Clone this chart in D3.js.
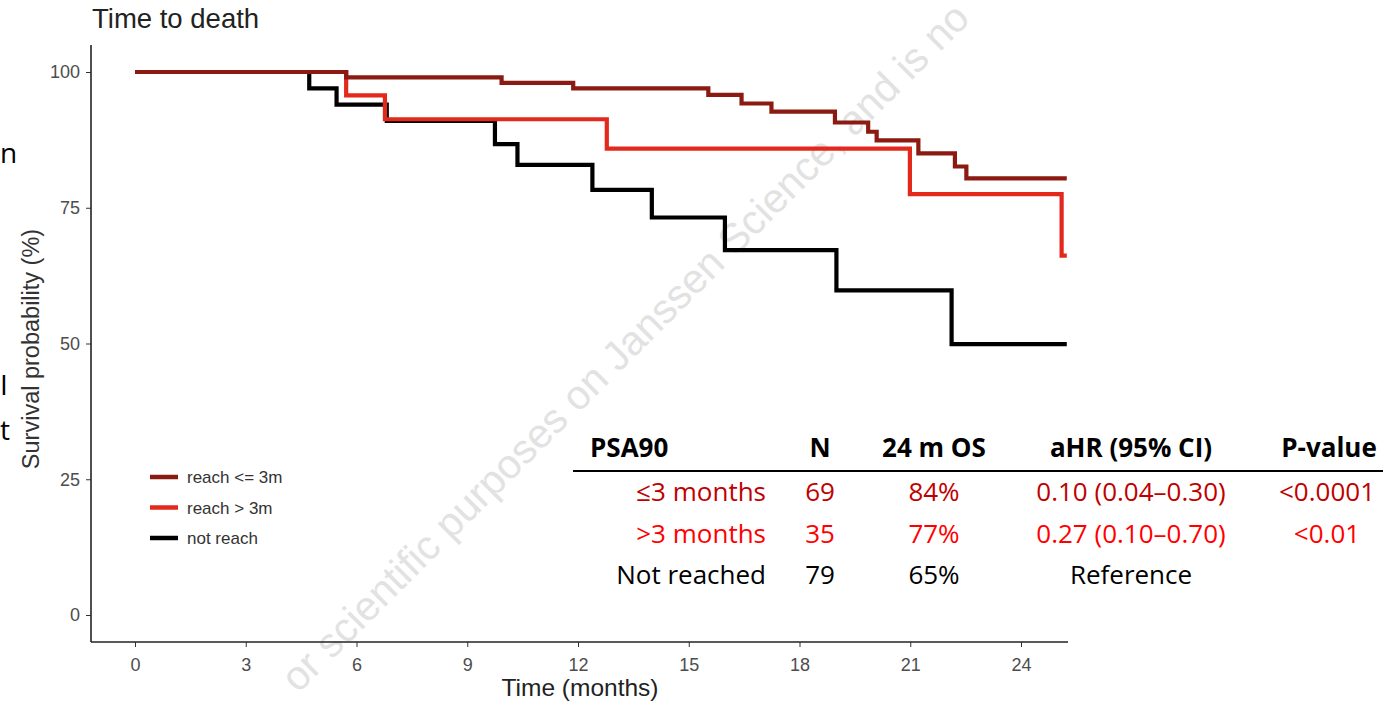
<!DOCTYPE html>
<html><head><meta charset="utf-8">
<script src="https://cdn.jsdelivr.net/npm/d3@7"></script>
<style>body{margin:0;background:#fff;overflow:hidden}svg{display:block}</style>
</head><body>
<svg id="c" width="1383" height="704"></svg>
<script>
// Kaplan-Meier step data: [time (months), survival %]
const reachLE3Times = [0, 5.72, 9.93, 11.87, 15.53, 16.43, 17.24, 18.96, 19.86, 20.09, 21.22, 22.21, 22.52, 25.24];
const reachLE3Surv  = [100, 99.0, 98.0, 97.0, 95.8, 94.2, 92.7, 90.7, 89.0, 87.4, 85.0, 82.6, 80.4, 80.4];
const reachGT3Times = [0, 5.72, 6.77, 12.78, 20.99, 25.10, 25.24];
const reachGT3Surv  = [100, 95.7, 91.3, 85.9, 77.5, 66.2, 66.2];
const notReachTimes = [0, 4.72, 5.46, 6.82, 9.75, 10.36, 12.39, 14.0, 15.98, 19.0, 22.12, 25.24];
const notReachSurv  = [100, 97.0, 94.0, 91.0, 86.7, 82.9, 78.3, 73.2, 67.2, 59.8, 49.9, 49.9];
const seriesNames = ["reach <= 3m", "reach > 3m", "not reach"];
const seriesColors = ["#8b1a12", "#e2291b", "#000000"];
const xTicks = [0, 3, 6, 9, 12, 15, 18, 21, 24];
const yTicks = [0, 25, 50, 75, 100];

// Table
const tableHeader = ["PSA90", "N", "24 m OS", "aHR (95% CI)", "P-value"];
const tableGroups = ["≤3 months", ">3 months", "Not reached"];
const tableN = ["69", "35", "79"];
const tableOS = ["84%", "77%", "65%"];
const tableHR = ["0.10 (0.04–0.30)", "0.27 (0.10–0.70)", "Reference"];
const tableP = ["<0.0001", "<0.01", ""];
const tableColors = ["#c00000", "#ff0000", "#000000"];

const svg = d3.select("#c");
const x = d3.scaleLinear().domain([0, 24]).range([135, 1021]);
const y = d3.scaleLinear().domain([0, 100]).range([615, 72]);
const axisLeft = 91, axisBottom = 642, axisRight = 1068, axisTop = 45;
const af = "Liberation Sans, Arial, sans-serif";

// watermark
svg.append("text")
  .attr("transform", "translate(298,694) rotate(-45)")
  .attr("font-family", af)
  .attr("font-size", 41)
  .attr("fill", "#e2e2e2")
  .text("or scientific purposes on Janssen Science, and is no");

// left cropped text fragments
const frag = [["n", 163], ["I", 395], ["t", 440]];
svg.selectAll("text.frag").data(frag).enter().append("text")
  .attr("class", "frag")
  .attr("x", 0).attr("y", d => d[1])
  .attr("font-family", "Open Sans, sans-serif")
  .attr("font-size", 28).attr("fill", "#000")
  .text(d => d[0]);

// title
svg.append("text").attr("x", 92).attr("y", 28)
  .attr("font-family", af)
  .attr("font-size", 27.5).attr("fill", "#222").text("Time to death");

// axes
const gx = svg.append("g").attr("transform", `translate(0,${axisBottom})`)
  .call(d3.axisBottom(x).tickValues(xTicks).tickSize(5).tickPadding(4));
gx.select(".domain").remove();
svg.append("line").attr("x1", axisLeft).attr("x2", axisRight)
  .attr("y1", axisBottom).attr("y2", axisBottom).attr("stroke", "#222").attr("stroke-width", 1.6);
const gy = svg.append("g").attr("transform", `translate(${axisLeft},0)`)
  .call(d3.axisLeft(y).tickValues(yTicks).tickSize(5).tickPadding(6));
gy.select(".domain").remove();
svg.append("line").attr("x1", axisLeft).attr("x2", axisLeft)
  .attr("y1", axisTop).attr("y2", axisBottom).attr("stroke", "#222").attr("stroke-width", 1.6);
[gx, gy].forEach(g => {
  g.selectAll("text").attr("font-family", af)
    .attr("font-size", 18).attr("fill", "#4d4d4d");
  g.selectAll("line").attr("stroke", "#333");
});
gx.selectAll("text").attr("y", 29).attr("dy", 0);

svg.append("text").attr("x", 580).attr("y", 696).attr("text-anchor", "middle")
  .attr("font-family", af).attr("font-size", 24.5)
  .attr("fill", "#222").text("Time (months)");
svg.append("text").attr("transform", "translate(39,349) rotate(-90)").attr("text-anchor", "middle")
  .attr("font-family", af).attr("font-size", 23.5)
  .attr("fill", "#333").text("Survival probability (%)");

// curves
const series = [
  reachLE3Times.map((t, i) => [t, reachLE3Surv[i]]),
  reachGT3Times.map((t, i) => [t, reachGT3Surv[i]]),
  notReachTimes.map((t, i) => [t, notReachSurv[i]])
];
const line = d3.line().x(d => x(d[0])).y(d => y(d[1])).curve(d3.curveStepAfter);
[2, 1, 0].forEach(i => {
  svg.append("path").datum(series[i]).attr("d", line)
    .attr("fill", "none").attr("stroke", seriesColors[i]).attr("stroke-width", 4.2)
    .attr("stroke-linejoin", "miter");
});

// legend
const lg = svg.append("g");
seriesNames.forEach((n, i) => {
  const yy = 477 + i * 30.5;
  lg.append("line").attr("x1", 150).attr("x2", 178).attr("y1", yy).attr("y2", yy)
    .attr("stroke", seriesColors[i]).attr("stroke-width", 4.5);
  lg.append("text").attr("x", 187).attr("y", yy + 6)
    .attr("font-family", af).attr("font-size", 17)
    .attr("fill", "#333").text(n);
});

// table
const tf = "Open Sans, Lato, sans-serif";
const colX = [590, 820, 934, 1131, 1329];
const colAnchor = ["start", "middle", "middle", "middle", "middle"];
tableHeader.forEach((h, j) => {
  svg.append("text").attr("x", colX[j]).attr("y", 457).attr("text-anchor", colAnchor[j])
    .attr("font-family", tf).attr("font-size", 26).attr("font-weight", "bold")
    .attr("fill", "#000").text(h);
});
svg.append("line").attr("x1", 573).attr("x2", 1383).attr("y1", 471).attr("y2", 471)
  .attr("stroke", "#000").attr("stroke-width", 2);
const rowY = [501, 543, 584];
tableGroups.forEach((g, i) => {
  const vals = [g, tableN[i], tableOS[i], tableHR[i], tableP[i]];
  const rx = [766, 820, 934, 1131, 1327];
  const ra = ["end", "middle", "middle", "middle", "middle"];
  vals.forEach((v, j) => {
    svg.append("text").attr("x", rx[j]).attr("y", rowY[i]).attr("text-anchor", ra[j])
      .attr("font-family", tf).attr("font-size", 26).attr("fill", tableColors[i]).text(v);
  });
});
</script>
</body></html>
